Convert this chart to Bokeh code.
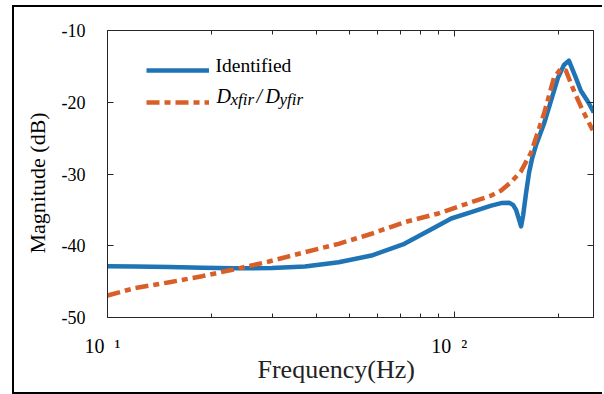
import math
from bokeh.plotting import figure
from bokeh.models import (Range1d, FixedTicker, LogAxis, LinearAxis, Label,
                          Legend, LegendItem, Title)
from bokeh.embed import file_html
from bokeh.resources import INLINE

# ---------------- data ----------------
freq_identified = [10.0, 12.0, 15.1, 18.75, 23.3, 29.8, 37.1, 46.4, 57.7, 71.8,
                   85.9, 98.0, 111.9, 127.8, 136.5, 143.9, 147.7, 150.7, 153.8,
                   155.8, 157.9, 161.0, 164.3, 167.5, 172.0, 181.4, 190.0, 199.0,
                   207.1, 214.0, 224.2, 231.7, 242.7, 252.5]
mag_identified = [-42.85, -42.9, -42.95, -43.05, -43.15, -43.1, -42.9, -42.3, -41.36,
                  -39.73, -37.7, -36.2, -35.3, -34.4, -34.05, -34.0, -34.3, -35.0,
                  -36.4, -37.3, -35.8, -32.7, -29.8, -27.9, -26.0, -23.0, -19.8,
                  -16.6, -14.8, -14.2, -16.6, -18.4, -19.9, -21.4]

freq_fir = [10.0, 12.0, 15.1, 18.75, 23.3, 29.2, 37.1, 46.4, 57.7, 71.8, 90.0,
            111.9, 127.8, 136.5, 145.8, 155.8, 166.5, 181.4, 193.8, 203.0, 209.8,
            221.2, 234.8, 250.8]
mag_fir = [-46.93, -45.9, -45.08, -44.24, -43.27, -42.2, -40.9, -39.73, -38.33,
           -36.72, -35.5, -33.93, -33.0, -32.3, -31.14, -29.6, -27.0, -21.6, -16.6,
           -15.3, -15.6, -18.4, -21.2, -23.9]

x_major_ticks = [10, 100]
x_minor_ticks = [20, 30, 40, 50, 60, 70, 80, 90, 200]
x_tick_labels = ["10\u2002\u00b9\u00a0\u00a0", "10\u2002\u00b2\u00a0\u00a0"]
y_ticks = [-50, -40, -30, -20, -10]
y_tick_labels = ["-50", "-40", "-30", "-20", "-10"]
x_limits = (10, 252)
y_limits = (-50, -10)

series_labels = ["Identified", "Dxfir/Dyfir"]
x_title = "Frequency(Hz)"
y_title = "Magnitude (dB)"

BLUE = "#1f74b6"
ORANGE = "#d95f29"
AXC = "#262626"
FONT = "Liberation Serif"

p = figure(width=590, height=389, x_axis_type="log",
           x_range=Range1d(*x_limits), y_range=Range1d(*y_limits),
           output_backend="svg", toolbar_location=None,
           min_border_left=91, min_border_right=11,
           min_border_top=23, min_border_bottom=79)
p.styles = {"margin-left": "12px", "margin-top": "5px",
            "border-left": "2px solid black", "border-top": "2px solid black",
            "border-bottom": "2px solid black"}
p.background_fill_color = "white"
p.border_fill_color = "white"
p.outline_line_color = AXC
p.outline_line_width = 1
p.xgrid.visible = False
p.ygrid.visible = False

def style_axis(ax, ticker):
    ax.ticker = ticker
    ax.axis_line_color = AXC
    ax.major_tick_line_color = AXC
    ax.minor_tick_line_color = AXC
    ax.major_tick_in = 6
    ax.major_tick_out = 0
    ax.minor_tick_in = 4
    ax.minor_tick_out = 0
    ax.major_label_text_font = FONT
    ax.major_label_text_color = "black"

def hide_labels(ax):
    ax.major_label_text_font_size = "1px"
    ax.major_label_text_alpha = 0
    ax.major_label_standoff = 0

# bottom x axis with 10^n labels
xa = p.xaxis[0]
style_axis(xa, FixedTicker(ticks=x_major_ticks, minor_ticks=x_minor_ticks))
xa.major_label_overrides = dict(zip(x_major_ticks, x_tick_labels))
xa.major_label_text_font_size = "20px"
xa.major_label_standoff = 17

# left y axis
ya = p.yaxis[0]
style_axis(ya, FixedTicker(ticks=y_ticks, minor_ticks=[]))
ya.minor_tick_line_color = None
ya.major_label_overrides = dict(zip(y_ticks, y_tick_labels))
ya.major_label_text_font_size = "18px"
ya.major_label_standoff = 22

# mirrored axes
top_ax = LogAxis()
style_axis(top_ax, FixedTicker(ticks=x_major_ticks, minor_ticks=x_minor_ticks))
hide_labels(top_ax)
p.add_layout(top_ax, "above")
right_ax = LinearAxis()
style_axis(right_ax, FixedTicker(ticks=y_ticks, minor_ticks=[]))
right_ax.minor_tick_line_color = None
hide_labels(right_ax)
p.add_layout(right_ax, "right")

# axis titles
p.add_layout(Title(text=x_title, align="left", offset=150, standoff=-13,
                   text_font=FONT, text_font_size="26px",
                   text_font_style="normal", text_color="#222222"), "below")
p.add_layout(Title(text=y_title, align="left", offset=64, standoff=17,
                   text_font=FONT, text_font_size="22px",
                   text_font_style="normal", text_color="black"), "left")

r1 = p.line(freq_identified, mag_identified, line_color=BLUE, line_width=4.5,
            line_join="round")
r2 = p.line(freq_fir, mag_fir, line_color=ORANGE, line_width=4.5,
            line_dash="13 5 6 5", line_join="round")

x0, y0 = x_limits[0], y_limits[1]

def frame_label(text, dx, dy, size, style="normal"):
    p.add_layout(Label(x=x0, y=y0, x_offset=dx, y_offset=-dy, text=text,
                       text_font=FONT, text_font_size=size,
                       text_font_style=style, text_color="black",
                       text_align="left", text_baseline="middle"))

legend = Legend(items=[LegendItem(label="\u00a0", renderers=[r1]),
                       LegendItem(label="\u00a0", renderers=[r2])],
                location=(39, 203), margin=0, padding=0, spacing=8,
                glyph_width=63, glyph_height=24, label_height=24,
                label_standoff=6, border_line_color=None,
                background_fill_alpha=0,
                label_text_font=FONT, label_text_font_size="19px",
                label_text_color="black")
p.add_layout(legend)

# legend texts: "Identified" and D_xfir / D_yfir with subscripts
frame_label(series_labels[0], 108, 35, "19.5px")
frame_label("D", 109, 65, "20px", "italic")
frame_label("xfir", 123, 69, "17px", "italic")
frame_label("/", 149, 65, "20px", "italic")
frame_label("D", 158, 65, "20px", "italic")
frame_label("yfir", 172, 69, "17px", "italic")

open("out.html", "w").write(file_html(p, INLINE))
